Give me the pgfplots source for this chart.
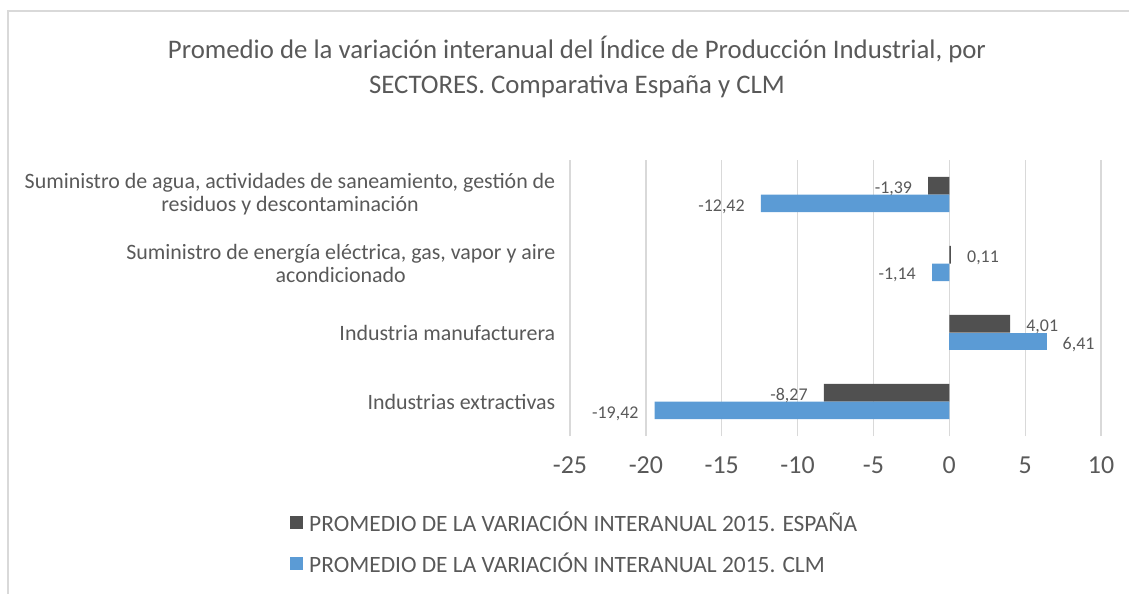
\documentclass[border=0pt]{standalone}
\usepackage{pgfplots}
\pgfplotsset{compat=1.18}
\usepackage{pgfplotstable}
\usepackage{fontspec}
\setmainfont{Carlito}
\definecolor{txt}{HTML}{595959}
\definecolor{esp}{HTML}{505050}
\definecolor{clm}{HTML}{5B9BD5}
\definecolor{grd}{HTML}{D9D9D9}

% España (bars just above each category centre)
\pgfplotstableread{
y x label
3.1283 -1.39 -1,39
0.1283 -8.27 -8,27
}\espneg
\pgfplotstableread{
y x label
2.1283 0.11 0,11
1.1283 4.01 4,01
}\esppos
% CLM (bars just below each category centre)
\pgfplotstableread{
y x label
2.8717 -12.42 -12,42
1.8717 -1.14 -1,14
-0.1283 -19.42 -19,42
}\clmneg
\pgfplotstableread{
y x label
0.8717 6.41 6,41
}\clmpos

\begin{document}
\begin{tikzpicture}[x=1bp,y=1bp]
\useasboundingbox (0,0) rectangle (1129,-594);
\draw[grd, line width=1.3bp] (8,-594) -- (8,-11) -- (1129,-11);
\node[text=txt, align=center, font=\fontsize{26.9}{35}\selectfont] at (577,-67) {Promedio de la variación interanual del Índice de Producción Industrial, por\\SECTORES. Comparativa España y CLM};
\begin{axis}[
  at={(570bp,-436bp)}, anchor=south west,
  scale only axis, width=531bp, height=276bp,
  xmin=-25, xmax=10, ymin=-0.5, ymax=3.5,
  xtick={-25,-20,...,10}, ytick={0,1,2,3},
  yticklabels={{Industrias extractivas},{Industria manufacturera},{Suministro de energía eléctrica, gas, vapor y aire\\acondicionado},{Suministro de agua, actividades de saneamiento, gestión de\\residuos y descontaminación}},
  xmajorgrids, major grid style={grd, line width=1.3bp},
  axis line style={draw=none}, tick style={draw=none},
  xbar, bar width=0.2565, bar shift=0pt,
  /pgf/number format/assume math mode=true,
  ticklabel style={text=txt},
  xticklabel style={font=\fontsize{26}{30}\selectfont, yshift=-17bp},
  yticklabel style={font=\fontsize{22}{23}\selectfont, align=center, xshift=-7bp},
  nodes near coords={\pgfplotspointmeta}, point meta=explicit symbolic,
  every node near coord/.append style={font=\fontsize{18}{20}\selectfont, text=txt, inner sep=0pt, yshift=-3bp},
  neg/.style={every node near coord/.append style={anchor=east, xshift=-16bp}},
  pos/.style={every node near coord/.append style={anchor=west, xshift=16bp}},
  legend style={draw=none, fill=none, at={(axis description cs:-0.5273,-0.2645)}, anchor=north west, font=\fontsize{23.5}{26}\selectfont, text=txt, row sep=14bp, inner sep=0pt, nodes={inner sep=3bp}},
  legend cell align=left,
  legend image code/.code={\path[#1] (0bp,-6.5bp) rectangle (13bp,6.5bp); \path (16bp,0bp);},
]
\addplot[fill=esp, draw=none, neg, forget plot] table[x=x,y=y,meta=label]{\espneg};
\addplot[fill=esp, draw=none, pos, forget plot] table[x=x,y=y,meta=label]{\esppos};
\addplot[fill=clm, draw=none, neg, forget plot] table[x=x,y=y,meta=label]{\clmneg};
\addplot[fill=clm, draw=none, pos, forget plot] table[x=x,y=y,meta=label]{\clmpos};
\addlegendimage{fill=esp, draw=none}
\addlegendentry{PROMEDIO DE LA VARIACIÓN INTERANUAL 2015. ESPAÑA}
\addlegendimage{fill=clm, draw=none}
\addlegendentry{PROMEDIO DE LA VARIACIÓN INTERANUAL 2015. CLM}
\end{axis}
\end{tikzpicture}
\end{document}
